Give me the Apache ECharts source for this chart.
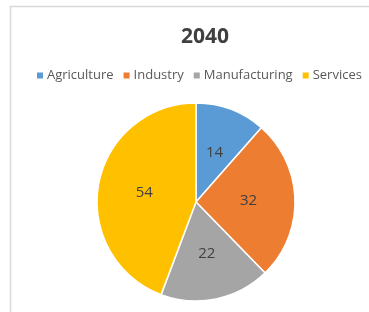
<!DOCTYPE html>
<html>
<head>
<meta charset="utf-8">
<script src="https://cdn.jsdelivr.net/npm/echarts@6/dist/echarts.min.js"></script>
<style>
  html, body { margin: 0; padding: 0; background: #fff; }
  #chart { width: 369px; height: 312px; }
</style>
</head>
<body>
<div id="chart"></div>
<script>
var titleText = '2040';
var sectors = ['Agriculture', 'Industry', 'Manufacturing', 'Services'];
var shares = [14, 32, 22, 54];
var colors = ['#5B9BD5', '#ED7D31', '#A5A5A5', '#FFC000'];

var myChart = echarts.init(document.getElementById('chart'));
var option = {
    animation: false,
    color: colors,
    textStyle: { fontFamily: 'Open Sans, Noto Sans, sans-serif' },
    graphic: [{
        type: 'rect',
        shape: { x: 10.5, y: 6.5, width: 400, height: 400 },
        style: { fill: 'none', stroke: '#d9d9d9', lineWidth: 1.5 },
        silent: true
    }],
    title: {
        text: titleText,
        left: 176,
        top: 22,
        textStyle: { fontSize: 21, fontWeight: 'bold', color: '#404040' }
    },
    legend: {
        top: 64,
        left: 30,
        itemWidth: 8,
        itemHeight: 8,
        itemGap: 8,
        icon: 'rect',
        textStyle: { fontSize: 13, color: '#595959', padding: [0, 0, 0, -2] },
        data: sectors
    },
    series: [{
        type: 'pie',
        center: [196, 202],
        radius: 99,
        startAngle: 90,
        clockwise: true,
        label: {
            position: 'inside',
            formatter: '{c}',
            fontSize: 15,
            color: '#404040'
        },
        labelLine: { show: false },
        itemStyle: { borderColor: '#fff', borderWidth: 1.5 },
        data: sectors.map(function (s, i) {
            return { name: s, value: shares[i] };
        })
    }]
};
myChart.setOption(option);
</script>
</body>
</html>
